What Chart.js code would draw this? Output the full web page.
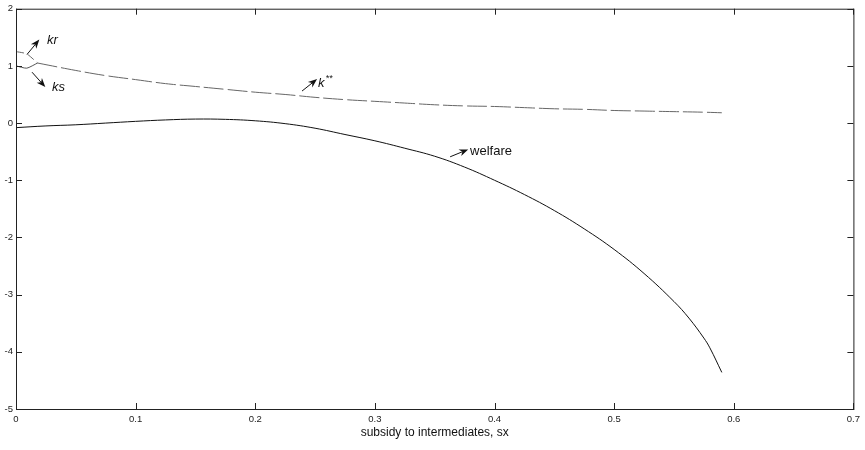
<!DOCTYPE html>
<html>
<head>
<meta charset="utf-8">
<script src="https://cdn.jsdelivr.net/npm/chart.js@4"></script>
<style>
  html, body { margin: 0; padding: 0; background: #fff; }
</style>
</head>
<body>
<canvas id="c" width="865" height="450"></canvas>
<script>
// ---- data ----
const sx = [0, 0.025, 0.05, 0.075, 0.1, 0.125, 0.15, 0.175, 0.2, 0.225, 0.25, 0.275, 0.3,
            0.325, 0.35, 0.375, 0.4, 0.425, 0.45, 0.475, 0.5, 0.525, 0.55, 0.5625, 0.575, 0.58, 0.59];
const welfare = [-0.08, -0.05, -0.03, 0.0, 0.03, 0.055, 0.07, 0.065, 0.04, -0.01, -0.09, -0.20, -0.31,
                 -0.44, -0.58, -0.77, -1.0, -1.25, -1.53, -1.85, -2.21, -2.63, -3.12, -3.41, -3.76, -3.93, -4.36];

const sxK = [0.018, 0.05, 0.075, 0.1, 0.125, 0.15, 0.175, 0.2, 0.225, 0.25, 0.275, 0.3,
             0.325, 0.35, 0.375, 0.4, 0.425, 0.45, 0.475, 0.5, 0.525, 0.55, 0.575, 0.59];
const kStar = [1.05, 0.92, 0.83, 0.76, 0.69, 0.64, 0.59, 0.54, 0.50, 0.45, 0.41, 0.38,
               0.35, 0.32, 0.30, 0.29, 0.27, 0.25, 0.24, 0.22, 0.21, 0.20, 0.19, 0.18];

const sxBranch = [0, 0.009, 0.018];
const kr = [1.25, 1.21, 1.05];
const ks = [1.0, 0.96, 1.05];

const xTicks = [0, 0.1, 0.2, 0.3, 0.4, 0.5, 0.6, 0.7];
const yTicks = [-5, -4, -3, -2, -1, 0, 1, 2];

// labels with arrows, in data units
const notes = [
  { text: 'kr',      sup: '',   italic: true,  tail: [0.0092, 1.20], head: [0.0195, 1.46], at: [0.026, 1.44] },
  { text: 'ks',      sup: '',   italic: true,  tail: [0.0134, 0.89], head: [0.0245, 0.63], at: [0.030, 0.63] },
  { text: 'k',       sup: '**', italic: true,  tail: [0.2391, 0.56], head: [0.2517, 0.77], at: [0.2525, 0.70] },
  { text: 'welfare', sup: '',   italic: false, tail: [0.3629, -0.59], head: [0.3780, -0.46], at: [0.3796, -0.50] }
];

const pts = (xs, ys) => xs.map((x, i) => ({ x, y: ys[i] }));
const FONT = "'Liberation Sans', Arial, Helvetica, sans-serif";

// box round the plot + inward ticks on all four sides
const frame = {
  id: 'frame',
  afterDatasetsDraw(chart) {
    const { ctx, chartArea: a, scales: { x, y } } = chart;
    ctx.save();
    ctx.strokeStyle = '#222';
    ctx.lineWidth = 1;
    ctx.strokeRect(a.left + 0.5, a.top + 0.5, a.right - a.left, a.bottom - a.top);
    ctx.beginPath();
    const len = 6;
    xTicks.forEach(v => {
      const px = Math.round(x.getPixelForValue(v)) + 0.5;
      ctx.moveTo(px, a.bottom); ctx.lineTo(px, a.bottom - len);
      ctx.moveTo(px, a.top); ctx.lineTo(px, a.top + len);
    });
    yTicks.forEach(v => {
      const py = Math.round(y.getPixelForValue(v)) + 0.5;
      ctx.moveTo(a.left, py); ctx.lineTo(a.left + len, py);
      ctx.moveTo(a.right, py); ctx.lineTo(a.right - len, py);
    });
    ctx.stroke();
    ctx.restore();
  },
  afterDraw(chart) {
    const { ctx, scales: { x, y } } = chart;
    ctx.save();
    ctx.fillStyle = '#111';
    ctx.strokeStyle = '#111';
    notes.forEach(n => {
      const x0 = x.getPixelForValue(n.tail[0]), y0 = y.getPixelForValue(n.tail[1]);
      const x1 = x.getPixelForValue(n.head[0]), y1 = y.getPixelForValue(n.head[1]);
      const ang = Math.atan2(y1 - y0, x1 - x0);
      const hl = 9, hw = 3.5;
      ctx.lineWidth = 1;
      ctx.beginPath();
      ctx.moveTo(x0, y0);
      ctx.lineTo(x1 - Math.cos(ang) * hl * 0.7, y1 - Math.sin(ang) * hl * 0.7);
      ctx.stroke();
      const bx = x1 - Math.cos(ang) * hl, by = y1 - Math.sin(ang) * hl;
      ctx.beginPath();
      ctx.moveTo(x1, y1);
      ctx.lineTo(bx - Math.sin(ang) * hw, by + Math.cos(ang) * hw);
      ctx.lineTo(x1 - Math.cos(ang) * hl * 0.7, y1 - Math.sin(ang) * hl * 0.7);
      ctx.lineTo(bx + Math.sin(ang) * hw, by - Math.cos(ang) * hw);
      ctx.closePath();
      ctx.fill();

      const tx = x.getPixelForValue(n.at[0]), ty = y.getPixelForValue(n.at[1]);
      ctx.font = (n.italic ? 'italic ' : '') + '13px ' + FONT;
      ctx.textAlign = 'left';
      ctx.textBaseline = 'middle';
      ctx.fillText(n.text, tx, ty);
      if (n.sup) {
        const w = ctx.measureText(n.text).width;
        ctx.font = (n.italic ? 'italic ' : '') + '9px ' + FONT;
        ctx.fillText(n.sup, tx + w + 1, ty - 5);
      }
    });
    ctx.restore();
  }
};

new Chart(document.getElementById('c'), {
  type: 'line',
  data: {
    datasets: [
      { data: pts(sx, welfare), borderColor: '#111', borderWidth: 1, pointRadius: 0, tension: 0.4 },
      { data: pts(sxK, kStar), borderColor: '#666', borderWidth: 1, borderDash: [20, 4],
        pointRadius: 0, tension: 0.4 },
      { data: pts(sxBranch, kr), borderColor: '#666', borderWidth: 1, borderDash: [8, 4],
        pointRadius: 0, tension: 0.2 },
      { data: pts(sxBranch, ks), borderColor: '#555', borderWidth: 1, pointRadius: 0, tension: 0.2 }
    ]
  },
  options: {
    responsive: false,
    animation: false,
    layout: { padding: { left: 0, right: 11, top: 6, bottom: 0 } },
    plugins: { legend: { display: false }, tooltip: { enabled: false } },
    scales: {
      x: {
        type: 'linear', min: 0, max: 0.7,
        afterBuildTicks: s => { s.ticks = xTicks.map(v => ({ value: v })); },
        afterFit: s => { s.height = 41; },
        grid: { display: false, drawTicks: false },
        border: { display: false },
        ticks: { padding: 5, color: '#222', font: { family: FONT, size: 9.5 },
                 maxRotation: 0, callback: v => String(v) },
        title: { display: true, text: 'subsidy to intermediates, sx', color: '#111',
                 font: { family: FONT, size: 12 }, padding: { top: 0, bottom: 10 } }
      },
      y: {
        type: 'linear', min: -5, max: 2,
        afterBuildTicks: s => { s.ticks = yTicks.map(v => ({ value: v })); },
        afterFit: s => { s.width = 16; },
        grid: { display: false, drawTicks: false },
        border: { display: false },
        ticks: { padding: 3, color: '#222', font: { family: FONT, size: 9.5 },
                 callback: v => String(v) }
      }
    }
  },
  plugins: [frame]
});
</script>
</body>
</html>
